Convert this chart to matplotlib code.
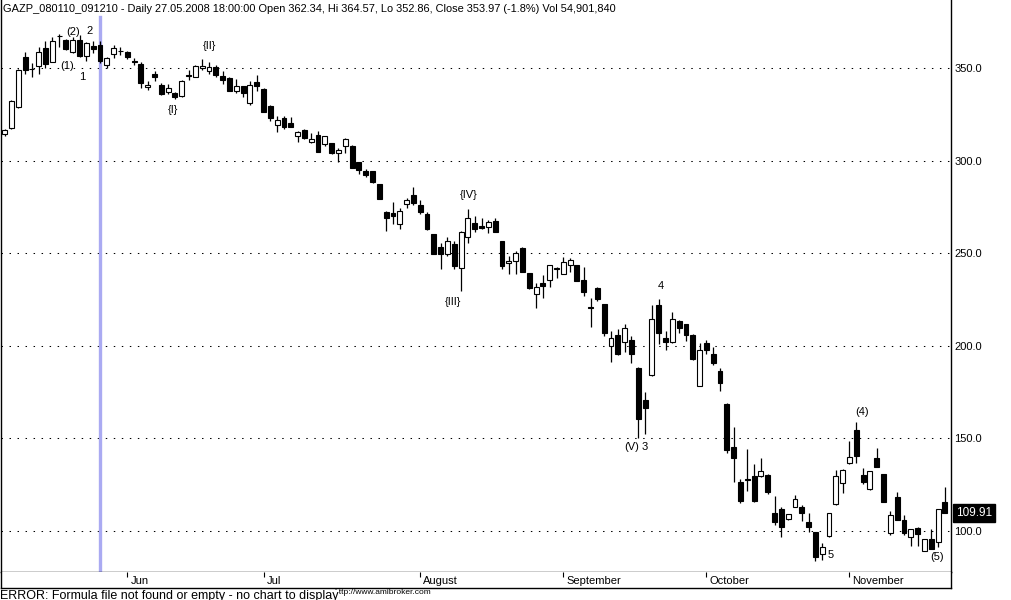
import matplotlib
matplotlib.use("Agg")
import matplotlib.pyplot as plt
import matplotlib.transforms as mtransforms
import numpy as np

plt.rcParams['font.family'] = ['Liberation Sans', 'DejaVu Sans']

# ---- data: daily OHLC bars (index 0..138), GAZP May-Nov 2008 ----
opens = [314.5, 317.5, 329.0, 355.8, 349.6, 351.1, 360.6, 353.4, 367.4, 365.0,
         358.4, 365.0, 356.5, 362.0, 362.34, 351.6, 357.4, 359.3, 358.4, 353.5,
         352.0, 339.6, 346.6, 340.8, 337.2, 336.3, 335.0, 346.1, 345.3, 349.8,
         348.6, 350.4, 345.7, 344.4, 337.7, 340.3, 331.3, 342.2, 338.6, 329.5,
         319.4, 322.8, 320.4, 313.1, 316.5, 310.2, 313.8, 308.8, 309.3, 304.3,
         308.0, 307.9, 299.0, 294.2, 294.4, 287.4, 272.4, 271.9, 265.6, 276.6,
         281.4, 276.0, 271.2, 260.4, 253.6, 249.5, 255.0, 242.1, 258.5, 266.4,
         264.7, 264.3, 267.4, 256.6, 244.6, 245.9, 253.0, 239.2, 227.8, 233.7,
         235.5, 241.9, 238.8, 243.6, 243.6, 235.5, 220.7, 231.1, 222.6, 200.1,
         205.8, 202.2, 203.3, 188.2, 170.7, 184.2, 222.0, 204.0, 202.2, 213.4,
         211.8, 205.8, 178.5, 201.3, 195.6, 186.4, 168.6, 145.5, 126.3, 128.0,
         129.7, 129.9, 130.2, 109.6, 111.9, 106.3, 113.1, 113.1, 104.7, 99.3,
         87.4, 97.3, 114.4, 125.7, 136.6, 154.5, 130.2, 122.7, 139.3, 130.8,
         99.1, 118.2, 105.9, 96.6, 101.5, 89.4, 95.5, 94.3, 115.5]
highs = [317.0, 332.5, 349.5, 358.5, 352.9, 361.5, 364.7, 366.5, 368.4, 365.5,
         366.5, 367.8, 363.8, 364.4, 364.57, 355.8, 362.4, 361.5, 359.0, 355.5,
         353.4, 342.7, 348.6, 341.7, 341.2, 337.2, 343.5, 348.9, 351.5, 354.8,
         353.4, 351.6, 348.6, 345.0, 343.9, 340.5, 342.7, 346.2, 339.0, 329.8,
         323.8, 323.8, 323.3, 315.8, 317.0, 314.7, 316.0, 313.5, 309.5, 306.6,
         312.0, 308.2, 299.5, 295.6, 294.6, 287.6, 272.8, 277.8, 274.6, 279.6,
         285.9, 278.7, 272.4, 260.6, 255.4, 258.6, 256.6, 262.0, 273.9, 270.1,
         268.8, 267.9, 268.8, 256.8, 248.5, 251.2, 253.2, 239.4, 233.7, 238.2,
         243.8, 242.7, 247.8, 247.4, 243.8, 242.4, 225.6, 232.0, 222.8, 208.0,
         208.9, 211.8, 205.3, 188.4, 175.2, 222.0, 225.3, 208.2, 218.1, 213.9,
         212.0, 206.2, 201.3, 203.1, 199.2, 188.2, 169.2, 156.3, 128.1, 144.3,
         136.2, 139.3, 131.0, 118.9, 112.8, 109.2, 119.4, 114.0, 109.6, 99.5,
         93.4, 109.8, 132.9, 133.5, 148.6, 158.7, 133.8, 132.6, 144.7, 131.0,
         111.0, 120.9, 108.6, 101.1, 102.0, 95.7, 101.1, 112.1, 123.6]
lows = [313.0, 317.0, 328.5, 346.8, 345.3, 346.8, 349.8, 353.0, 361.5, 359.5,
        358.0, 356.0, 354.0, 358.0, 352.86, 349.8, 355.2, 356.8, 354.9, 351.6,
        339.0, 338.1, 342.7, 335.2, 335.9, 333.1, 334.5, 343.5, 345.0, 348.9,
        346.8, 345.3, 341.4, 337.5, 336.7, 334.5, 330.0, 337.7, 326.0, 321.6,
        315.6, 316.9, 318.0, 310.2, 311.8, 309.3, 304.5, 308.0, 303.4, 299.5,
        303.9, 296.0, 292.8, 291.3, 287.7, 279.0, 262.1, 265.8, 263.1, 274.6,
        276.0, 271.0, 262.7, 249.4, 241.3, 248.7, 241.3, 229.7, 255.6, 261.7,
        263.2, 260.7, 261.2, 241.3, 238.8, 238.8, 239.8, 230.9, 220.6, 226.0,
        232.0, 236.4, 238.6, 240.0, 234.9, 227.1, 210.0, 224.3, 205.3, 191.4,
        195.2, 196.9, 190.9, 150.1, 152.2, 183.7, 201.0, 197.8, 201.7, 207.1,
        202.8, 192.5, 178.3, 195.4, 189.6, 175.7, 142.0, 126.6, 114.9, 121.7,
        115.5, 128.9, 120.0, 103.2, 96.6, 106.0, 113.0, 105.6, 99.6, 84.0,
        84.3, 97.0, 114.2, 120.7, 136.4, 136.6, 125.4, 122.3, 134.6, 115.7,
        97.8, 105.7, 97.8, 92.1, 92.1, 89.2, 90.1, 91.5, 109.7]
closes = [316.5, 332.0, 349.0, 349.0, 349.4, 358.8, 352.0, 364.7, 367.2, 360.0,
          365.0, 356.6, 363.3, 360.0, 353.97, 355.4, 360.6, 359.1, 355.8, 353.3,
          342.0, 340.8, 345.0, 335.8, 339.0, 334.2, 343.0, 345.9, 351.1, 351.1,
          350.4, 346.0, 343.5, 337.7, 340.3, 336.3, 340.8, 340.5, 326.4, 323.2,
          321.9, 318.3, 318.3, 315.6, 312.0, 311.7, 304.8, 313.3, 304.3, 305.7,
          311.7, 296.2, 295.1, 292.2, 288.6, 279.3, 268.8, 270.1, 272.8, 278.7,
          277.3, 272.4, 262.9, 249.6, 249.5, 256.6, 243.0, 261.2, 268.8, 262.9,
          263.4, 266.7, 261.7, 243.3, 245.9, 250.3, 240.0, 231.1, 232.0, 232.5,
          243.6, 241.7, 245.0, 246.3, 235.1, 228.9, 220.5, 225.1, 207.1, 204.4,
          195.4, 209.4, 195.4, 160.3, 166.3, 214.3, 207.1, 202.2, 214.3, 209.4,
          205.8, 192.7, 197.7, 197.7, 190.5, 179.8, 143.7, 139.3, 116.4, 127.8,
          116.4, 132.4, 121.2, 105.1, 102.3, 109.0, 117.3, 109.6, 102.3, 85.8,
          91.2, 109.6, 129.7, 132.9, 139.8, 140.6, 126.6, 132.4, 134.8, 115.9,
          108.6, 105.9, 99.1, 100.9, 98.2, 95.5, 90.3, 111.9, 109.91]

month_ticks = [18, 38, 61, 82, 103, 124]
month_labels = ["Jun", "Jul", "August", "September", "October", "November"]
price_ticks = [100, 150, 200, 250, 300, 350]
selected_bar = 14

# wave labels: (bar position, price level, text)
wave_x = [10.0, 12.4, 9.15, 11.35, 24.7, 30.0, 65.8, 68.1, 96.3, 92.1, 94.0, 125.8, 121.3, 136.8]
wave_y = [369.4, 370.0, 351.1, 345.1, 327.3, 361.9, 223.6, 281.4, 232.3, 145.4, 145.4, 164.3, 87.0, 86.0]
wave_txt = ["(2)", "2", "(1)", "1", "{I}", "{II}", "{III}", "{IV}", "4", "(V)", "3", "(4)", "5", "(5)"]

title = ("GAZP_080110_091210 - Daily 27.05.2008 18:00:00 Open 362.34, Hi 364.57, "
         "Lo 352.86, Close 353.97 (-1.8%) Vol 54,901,840")

W, H = 1012, 600
fig = plt.figure(figsize=(W / 100, H / 100), dpi=100)
fig.patch.set_facecolor("white")

ax = fig.add_axes([1 / W, (H - 572) / H, 950 / W, 572 / H])
ax.set_xlim(-0.53, 138.9)
ax.set_ylim(77.86, 386.7)
ax.spines["top"].set_visible(False)
for s in ["left", "right", "bottom"]:
    ax.spines[s].set_color("black")
    ax.spines[s].set_linewidth(1.0)

# grid
for p in price_ticks:
    ax.axhline(p, color="black", lw=0.75, linestyle=(0, (1.4, 6.3)), zorder=0)

# selected bar line
ax.axvline(selected_bar, ymin=0, ymax=(572 - 17) / 572, color="#aaaaf2", lw=2.4, zorder=1)

# candles
x = np.arange(len(opens))
o = np.array(opens); c = np.array(closes); hi = np.array(highs); lo = np.array(lows)
ax.vlines(x, lo, hi, color="black", lw=0.9, zorder=2)
bottoms = np.minimum(o, c)
heights = np.maximum(np.abs(c - o), 0.25)
fills = ["white" if cc > oo else "black" for oo, cc in zip(o, c)]
ax.bar(x, heights, bottom=bottoms, width=0.72, color=fills, edgecolor="black",
       linewidth=0.8, zorder=3)

# right price axis
ax.yaxis.tick_right()
ax.set_yticks(price_ticks)
ax.set_yticklabels([f"{p:.1f}" for p in price_ticks], fontsize=8)
ax.tick_params(axis="y", length=0, pad=2.5)
ax.set_xticks([])

# last price box
blend = mtransforms.blended_transform_factory(ax.transAxes, ax.transData)
ax.text(1.0 + 5 / 950, closes[-1], f"{closes[-1]:.2f}", transform=blend,
        ha="left", va="center", fontsize=8.5, color="white",
        bbox=dict(boxstyle="square,pad=0.25", fc="black", ec="black"))

# wave labels
for wx, wy, t in zip(wave_x, wave_y, wave_txt):
    ax.text(wx, wy, t, ha="center", va="center", fontsize=8, color="black", zorder=5)

# date strip
ax2 = fig.add_axes([1 / W, (H - 588) / H, 950 / W, 16 / H])
ax2.set_xlim(ax.get_xlim())
ax2.set_ylim(0, 1)
ax2.spines["top"].set_visible(False)
for s in ["left", "right", "bottom"]:
    ax2.spines[s].set_color("black")
    ax2.spines[s].set_linewidth(1.0)
ax2.set_yticks([])
ax2.set_xticks(month_ticks)
ax2.set_xticklabels([])
ax2.tick_params(axis="x", bottom=False, top=True, direction="in", length=3.5, width=0.8)
for t, lab in zip(month_ticks, month_labels):
    ax2.text(t + 0.45, 0.45, lab, ha="left", va="center", fontsize=8)

# title
fig.text(3 / W, 1 - 9 / H, title, ha="left", va="center", fontsize=7.9)

# bottom texts
fig.text(334 / W, 1 - 589 / H, "http://www.amibroker.com", ha="left", va="top", fontsize=6)
fig.text(0 / W, 1 - 590 / H, "ERROR: Formula file not found or empty - no chart to display",
         ha="left", va="top", fontsize=9,
         bbox=dict(boxstyle="square,pad=0.0", fc="white", ec="none"))

fig.savefig("out.png", dpi=100, facecolor="white")
